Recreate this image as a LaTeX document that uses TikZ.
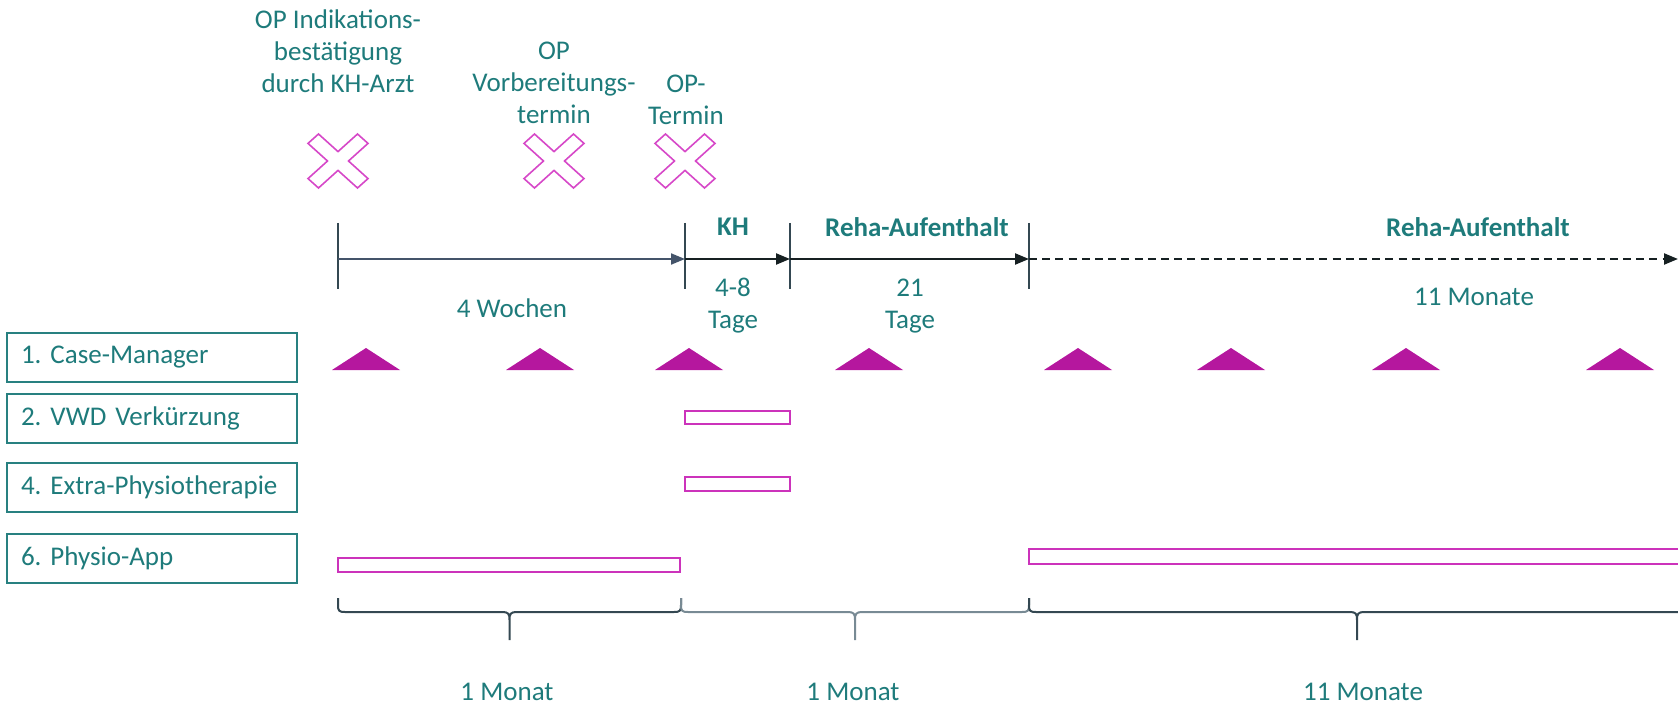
\documentclass[tikz,border=0pt]{standalone}
\usepackage{fontspec}
\setmainfont{Carlito}
\usetikzlibrary{arrows.meta}
\frenchspacing
\definecolor{tealtext}{RGB}{30,123,123}
\definecolor{tealbox}{RGB}{40,128,128}
\definecolor{magtri}{RGB}{181,23,158}
\definecolor{magbar}{RGB}{204,51,187}
\definecolor{magcross}{RGB}{214,72,200}
\definecolor{slate}{RGB}{68,84,106}
\definecolor{darkline}{RGB}{22,32,34}
\definecolor{bracedark}{RGB}{52,72,82}
\definecolor{bracelight}{RGB}{120,138,148}
\newcommand\drawbrace[3]{%
  \pgfmathsetmacro\bc{(#1+#2)/2}%
  \draw[#3, line width=1pt, line join=round]
    (#1,598) -- (#1,605) .. controls (#1,611) and ({#1+1},612) .. ({#1+7},612)
    -- ({\bc-7},612) .. controls ({\bc-1},612) and (\bc,614) .. (\bc,620) -- (\bc,640)
    (\bc,620) .. controls (\bc,614) and ({\bc+1},612) .. ({\bc+7},612)
    -- ({#2-7},612) .. controls ({#2-1},612) and (#2,611) .. (#2,605) -- (#2,598);
}
\tikzset{
  lbl/.style={text=tealtext, align=center, inner sep=1pt},
  lblb/.style={lbl, font=\fontsize{13.5}{16}\selectfont\bfseries},
  rowbox/.style={draw=tealbox, line width=1pt, text=tealtext, text width=131pt,
    align=left, inner xsep=7pt, minimum height=24.5pt},
  tickline/.style={draw=bracedark, line width=0.8pt},
  arrslate/.style={draw=slate, line width=1pt, -{Triangle[length=7pt,width=5.5pt]}},
  arrdark/.style={draw=darkline, line width=1.1pt, -{Triangle[length=7pt,width=5.5pt]}},
  barline/.style={draw=magbar, line width=1.1pt},
  xmark/.pic={\draw[magcross, line width=0.8pt, line join=miter]
    (-19.5,27) -- (0,9.4) -- (19.5,27) -- (30,17.6) -- (10.5,0) -- (30,-17.6)
    -- (19.5,-27) -- (0,-9.4) -- (-19.5,-27) -- (-30,-17.6) -- (-10.5,0)
    -- (-30,17.6) -- cycle;},
  trimark/.pic={\fill[magtri] (-34,11) -- (34,11) -- (0,-11) -- cycle;}
}
\begin{document}
\begin{tikzpicture}[x=0.5pt,y=-0.5pt,font=\fontsize{13.5}{16}\selectfont]
\useasboundingbox (0,0) rectangle (1678,706);
\clip (0,0) rectangle (1678,706);

% top labels
\node[lbl] (opind) at (338,51) {OP Indikations-\\bestätigung\\durch KH-Arzt};
\node[lbl] (opvor) at (554,83) {OP\\Vorbereitungs-\\termin};
\node[lbl] (opterm) at (686,99.5) {OP-\\Termin};

% crosses
\pic (x1) at (338,161) {xmark};
\pic (x2) at (554,161) {xmark};
\pic (x3) at (685,161) {xmark};

% timeline
\coordinate (t0) at (338,259);
\coordinate (t1) at (685,259);
\coordinate (t2) at (790,259);
\coordinate (t3) at (1029,259);
\coordinate (tend) at (1678,259);
\foreach \xx in {338,685,790,1029}{\draw[tickline] (\xx,223) -- (\xx,289);}
\draw[arrslate] (t0) -- (t1);
\draw[arrdark] (t1) -- (t2);
\draw[arrdark] (t2) -- (t3);
\draw[arrdark, dash pattern=on 4pt off 2.6pt] (t3) -- (tend);

\node[lblb] (kh) at (733,227) {KH};
\node[lblb] (reha1) at (917,227) {Reha-Aufenthalt};
\node[lblb] (reha2) at (1478,227) {Reha-Aufenthalt};
\node[lbl] (wochen) at (512,308) {4 Wochen};
\node[lbl] (tage1) at (733,306) {4-8\\Tage};
\node[lbl] (tage2) at (910,306) {21\\Tage};
\node[lbl] (monate1) at (1474,297) {11 Monate};

% row boxes
\node[rowbox] (cm) at (152,357) {1. Case-Manager};
\node[rowbox] (vwd) at (152,418.5) {2. VWD Verkürzung};
\node[rowbox] (ep) at (152,487) {\mbox{4. Extra-Physiotherapie}};
\node[rowbox] (pa) at (152,558.5) {6. Physio-App};

% triangles
\foreach \xx in {366,540,689,869,1078,1231,1406,1620}{\pic at (\xx,359) {trimark};}

% bars
\draw[barline] (685,411) rectangle (790,424);
\draw[barline] (685,477) rectangle (790,491);
\draw[barline] (338,558) rectangle (680,572);
\draw[barline] (1029,549) rectangle (1700,564);

% braces
\drawbrace{338}{681}{bracedark}
\drawbrace{681}{1029}{bracelight}
\drawbrace{1029}{1685}{bracedark}

\node[lbl] (m1) at (507,692) {1 Monat};
\node[lbl] (m2) at (853,692) {1 Monat};
\node[lbl] (m3) at (1363,692) {11 Monate};
\end{tikzpicture}
\end{document}
